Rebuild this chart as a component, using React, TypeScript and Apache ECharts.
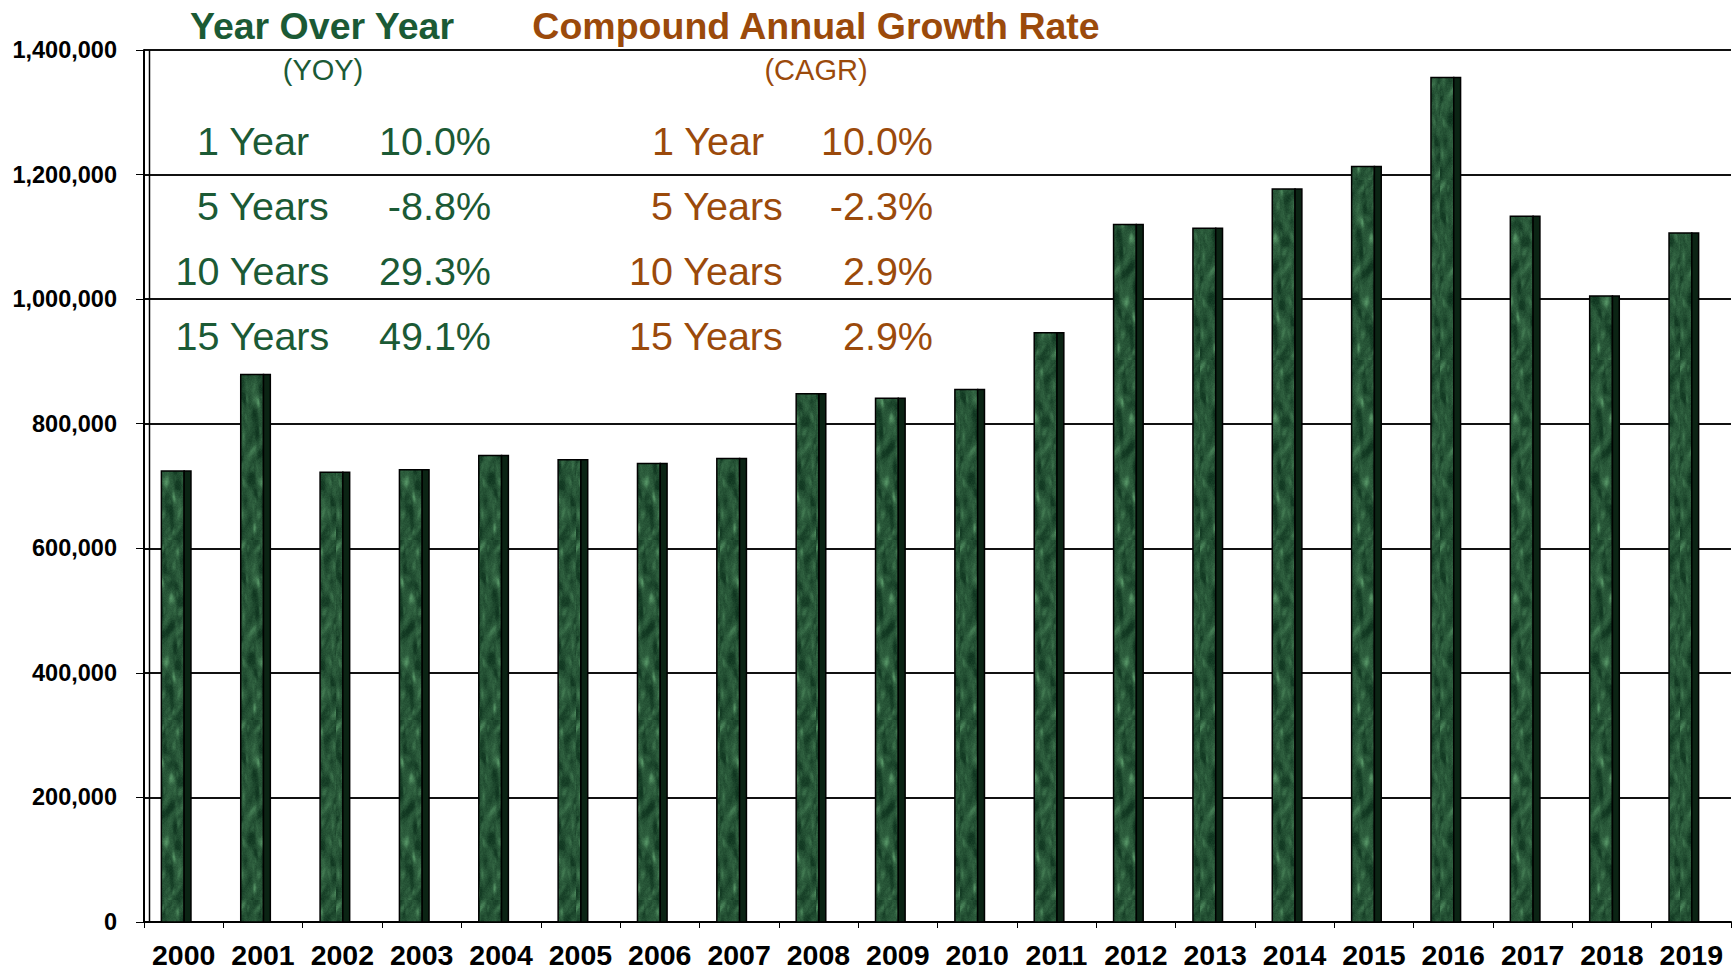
import React, { useEffect, useRef } from "react";
import * as echarts from "echarts";

const years = ["2000","2001","2002","2003","2004","2005","2006","2007","2008","2009","2010","2011","2012","2013","2014","2015","2016","2017","2018","2019"];
const values = [724000, 879000, 722000, 726000, 749000, 742000, 736000, 744000, 848000, 841000, 855000, 946000, 1120000, 1114000, 1177000, 1213000, 1356000, 1133000, 1005000, 1106000];
const yTicks = { min: 0, max: 1400000, interval: 200000 };

const yoyLabels = ["1 Year", "5 Years", "10 Years", "15 Years"];
const yoyValues = ["10.0%", "-8.8%", "29.3%", "49.1%"];
const cagrLabels = ["1 Year", "5 Years", "10 Years", "15 Years"];
const cagrValues = ["10.0%", "-2.3%", "2.9%", "2.9%"];

const GREEN = "#1b5a35";
const BROWN = "#9b4a0b";
const FONT = "'Liberation Sans', Arial, Helvetica, sans-serif";

function makeMarble(): string {
  const w = 48, h = 180;
  const c = document.createElement("canvas");
  c.width = w; c.height = h;
  const ctx = c.getContext("2d");
  if (!ctx) return "";
  const img = ctx.createImageData(w, h);
  const fract = (v: number) => v - Math.floor(v);
  for (let y = 0; y < h; y++) {
    for (let x = 0; x < w; x++) {
      const n1 = Math.sin(x * 0.33 + Math.sin(y * 0.07) * 3.5 + y * 0.035);
      const n2 = Math.sin(y * 0.105 - x * 0.21 + Math.sin(x * 0.45 + y * 0.02) * 1.6);
      const n3 = Math.sin((x + y * 0.6) * 0.18) * Math.sin(y * 0.031 * Math.PI * 2);
      const hs = fract(Math.sin(x * 12.9898 + y * 78.233) * 43758.5453);
      let t = 0.28 + 0.12 * n1 + 0.1 * n2 + 0.08 * n3 + (hs - 0.5) * 0.12;
      const vein = Math.max(0, n1 * n2 * n3);
      t += vein * 0.45;
      t = Math.max(0, Math.min(1, t));
      const r = 16 + t * 70;
      const g = 54 + t * 95;
      const b = 32 + t * 70;
      const i = (y * w + x) * 4;
      img.data[i] = r; img.data[i + 1] = g; img.data[i + 2] = b; img.data[i + 3] = 255;
    }
  }
  ctx.putImageData(img, 0, 0);
  return c.toDataURL();
}

export default function App() {
  const ref = useRef<HTMLDivElement>(null);
  useEffect(() => {
    document.body.style.margin = "0";
    if (!ref.current) return;
    const chart = echarts.init(ref.current, undefined, { renderer: "svg" });
    const marble = makeMarble();
    const pattern: any = marble
      ? { image: marble, repeat: "repeat", imageWidth: 48, imageHeight: 180 }
      : "#1f5634";

    const texts: any[] = [];
    const rowY = [141, 206, 271, 336];
    const yoyX = [197, 197, 175.5, 175.5];
    const cagrX = [652, 651, 629, 629];
    const rowFont = `39.5px ${FONT}`;
    rowY.forEach((y, i) => {
      texts.push({ type: "text", x: yoyX[i], y, style: { text: yoyLabels[i], font: rowFont, fill: GREEN, textAlign: "left", textVerticalAlign: "middle" } });
      texts.push({ type: "text", x: 491, y, style: { text: yoyValues[i], font: rowFont, fill: GREEN, textAlign: "right", textVerticalAlign: "middle" } });
      texts.push({ type: "text", x: cagrX[i], y, style: { text: cagrLabels[i], font: rowFont, fill: BROWN, textAlign: "left", textVerticalAlign: "middle" } });
      texts.push({ type: "text", x: 933, y, style: { text: cagrValues[i], font: rowFont, fill: BROWN, textAlign: "right", textVerticalAlign: "middle" } });
    });

    chart.setOption({
      animation: false,
      backgroundColor: "#ffffff",
      grid: { left: 144, right: 2, top: 50, bottom: 48, containLabel: false },
      xAxis: {
        type: "category",
        data: years,
        boundaryGap: true,
        axisLine: { show: true, lineStyle: { color: "#000", width: 2 } },
        axisTick: { show: true, length: 6, interval: 0, lineStyle: { color: "#000", width: 1 } },
        axisLabel: { interval: 0, color: "#000", fontFamily: FONT, fontWeight: "bold", fontSize: 28.5, margin: 18 },
        splitLine: { show: false },
      },
      yAxis: {
        type: "value",
        min: yTicks.min,
        max: yTicks.max,
        interval: yTicks.interval,
        axisLine: { show: true, lineStyle: { color: "#000", width: 2 } },
        axisTick: { show: true, length: 8, lineStyle: { color: "#000", width: 1 } },
        axisLabel: {
          color: "#000", fontFamily: FONT, fontWeight: "bold", fontSize: 23.5, margin: 27,
          formatter: (v: number) => v.toLocaleString("en-US"),
        },
        splitLine: { show: true, lineStyle: { color: "#111", width: 2 } },
      },
      graphic: [
        { type: "line", shape: { x1: 149.5, y1: 50, x2: 149.5, y2: 922 }, style: { stroke: "#000", lineWidth: 1.5 }, z: 10 },
        { type: "text", x: 322, y: 26, style: { text: "Year Over Year", font: `bold 37.5px ${FONT}`, fill: GREEN, textAlign: "center", textVerticalAlign: "middle" } },
        { type: "text", x: 323, y: 70, style: { text: "(YOY)", font: `29px ${FONT}`, fill: GREEN, textAlign: "center", textVerticalAlign: "middle" } },
        { type: "text", x: 816, y: 26, style: { text: "Compound Annual Growth Rate", font: `bold 37.5px ${FONT}`, fill: BROWN, textAlign: "center", textVerticalAlign: "middle" } },
        { type: "text", x: 816, y: 70, style: { text: "(CAGR)", font: `29px ${FONT}`, fill: BROWN, textAlign: "center", textVerticalAlign: "middle" } },
        ...texts,
      ],
      series: [
        {
          type: "custom",
          data: values.map((v, i) => [i, v]),
          encode: { x: 0, y: 1 },
          z: 5,
          renderItem: (params: any, api: any) => {
            const idx = api.value(0);
            const v = api.value(1);
            const top = api.coord([idx, v]);
            const base = api.coord([idx, 0]);
            const b = api.size([1, 0])[0];
            const cx = top[0];
            const fl = cx - 0.281 * b;
            const fr = cx + 0.006 * b;
            const sr = cx + 0.092 * b;
            const hgt = base[1] - top[1];
            return {
              type: "group",
              children: [
                { type: "rect", shape: { x: fl, y: top[1], width: fr - fl, height: hgt }, style: { fill: pattern, stroke: "#000", lineWidth: 1.5 } },
                { type: "rect", shape: { x: fr, y: top[1], width: sr - fr, height: hgt }, style: { fill: "#0b2414", stroke: "#000", lineWidth: 1.5 } },
              ],
            };
          },
        },
      ],
    });
    return () => chart.dispose();
  }, []);
  return <div ref={ref} style={{ width: 1733, height: 970 }} />;
}
